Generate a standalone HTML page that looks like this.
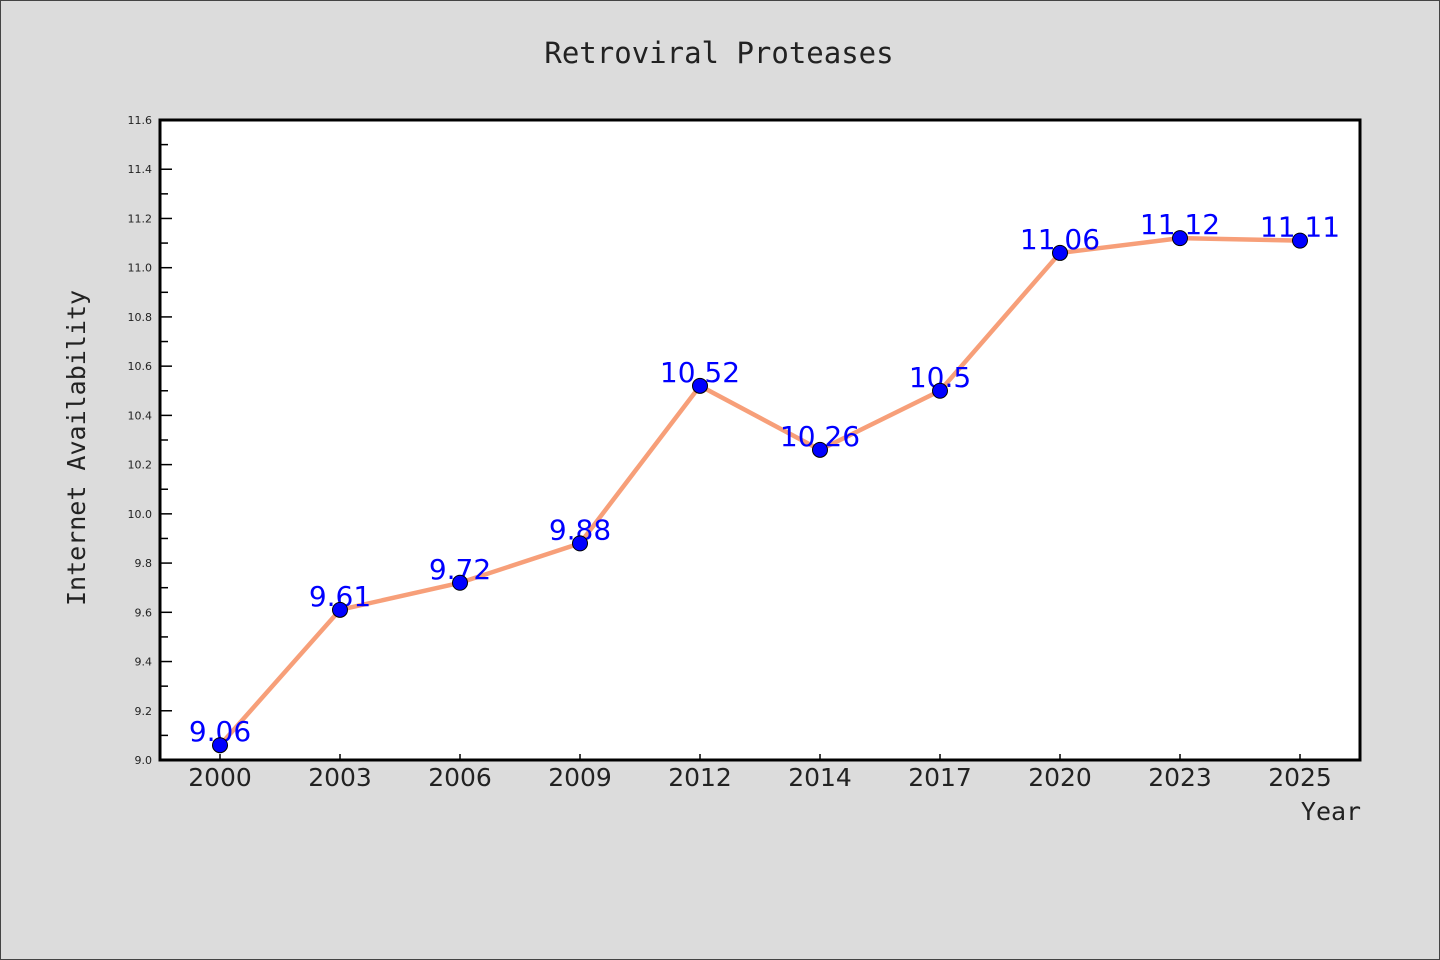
<!DOCTYPE html>
<html><head><meta charset="utf-8"><style>
html,body{margin:0;padding:0;background:#dcdcdc;}
svg{display:block;}
.mono{font-family:"DejaVu Sans Mono","Liberation Mono",monospace;}
.sans{font-family:"DejaVu Sans","Liberation Sans",sans-serif;}
</style></head><body>
<svg id="chart" width="1440" height="960" xmlns="http://www.w3.org/2000/svg">
<rect x="0.5" y="0.5" width="1439" height="959" fill="#dcdcdc" stroke="#444" stroke-width="1"/>
<text x="719" y="63" text-anchor="middle" class="mono" font-size="29" fill="#222">Retroviral Proteases</text>
<rect x="160" y="120" width="1200" height="640" fill="#fff"/>
<g id="yticks"></g><g id="xticks"></g><g id="series"></g>
<rect x="160" y="120" width="1200" height="640" fill="none" stroke="#000" stroke-width="3"/>
<text transform="translate(85,448) rotate(-90)" text-anchor="middle" class="mono" font-size="25" fill="#222">Internet Availability</text>
<text x="1331" y="820" text-anchor="middle" class="mono" font-size="25" fill="#222">Year</text>
</svg>
<script>
const categories = ["2000","2003","2006","2009","2012","2014","2017","2020","2023","2025"];
const values = [9.06, 9.61, 9.72, 9.88, 10.52, 10.26, 10.5, 11.06, 11.12, 11.11];
const valueLabels = ["9.06","9.61","9.72","9.88","10.52","10.26","10.5","11.06","11.12","11.11"];
const yTicks = ["9.0","9.2","9.4","9.6","9.8","10.0","10.2","10.4","10.6","10.8","11.0","11.2","11.4","11.6"];
const yMin = 9.0, yMax = 11.6;
const NS = "http://www.w3.org/2000/svg";
function xs(i){ return 160 + 1200/categories.length*(i+0.5); }
function ys(v){ return 760 - (v-yMin)/(yMax-yMin)*640; }
function mk(tag, attrs, parent){ const e=document.createElementNS(NS,tag); for(const k in attrs) e.setAttribute(k,attrs[k]); parent.appendChild(e); return e; }
const yg=document.getElementById('yticks'), xg=document.getElementById('xticks'), sg=document.getElementById('series');
yTicks.forEach((t,i)=>{
  const v=parseFloat(t), y=ys(v);
  const l=mk('line',{x1:160,x2:172,y1:y,y2:y,stroke:'#000','stroke-width':1.5},yg);
  
  
  const tx=mk('text',{x:152,y:y+4,'text-anchor':'end','font-size':11,fill:'#222',class:'sans'},yg);
  tx.textContent=t;
  
  
  if(i<yTicks.length-1){
    const ym=ys(v+0.1);
    const m=mk('line',{x1:160,x2:168,y1:ym,y2:ym,stroke:'#000','stroke-width':1.5},yg);
    
    
  }
});
categories.forEach((c,i)=>{
  const x=xs(i);
  const l=mk('line',{x1:x,x2:x,y1:760,y2:754,stroke:'#000','stroke-width':1.5},xg);
  
  
  const t=mk('text',{x:x,y:786,'text-anchor':'middle','font-size':25,fill:'#222',class:'sans'},xg);
  t.textContent=c;
  
  
});
const pts=values.map((v,i)=>xs(i)+','+ys(v)).join(' ');
const line=mk('polyline',{points:pts,fill:'none',stroke:'#f79f79','stroke-width':4.5,'stroke-linejoin':'round'},sg);


values.forEach((v,i)=>{
  const t=mk('text',{x:xs(i),y:ys(v)-4,'text-anchor':'middle','font-size':28,fill:'#0000ff',class:'sans'},sg);
  t.textContent=valueLabels[i];
  
  
});
values.forEach((v,i)=>{
  const c=mk('circle',{cx:xs(i),cy:ys(v),r:7.5,fill:'#0000ff',stroke:'#000','stroke-width':1},sg);
  
  
});
</script>
</body></html>
